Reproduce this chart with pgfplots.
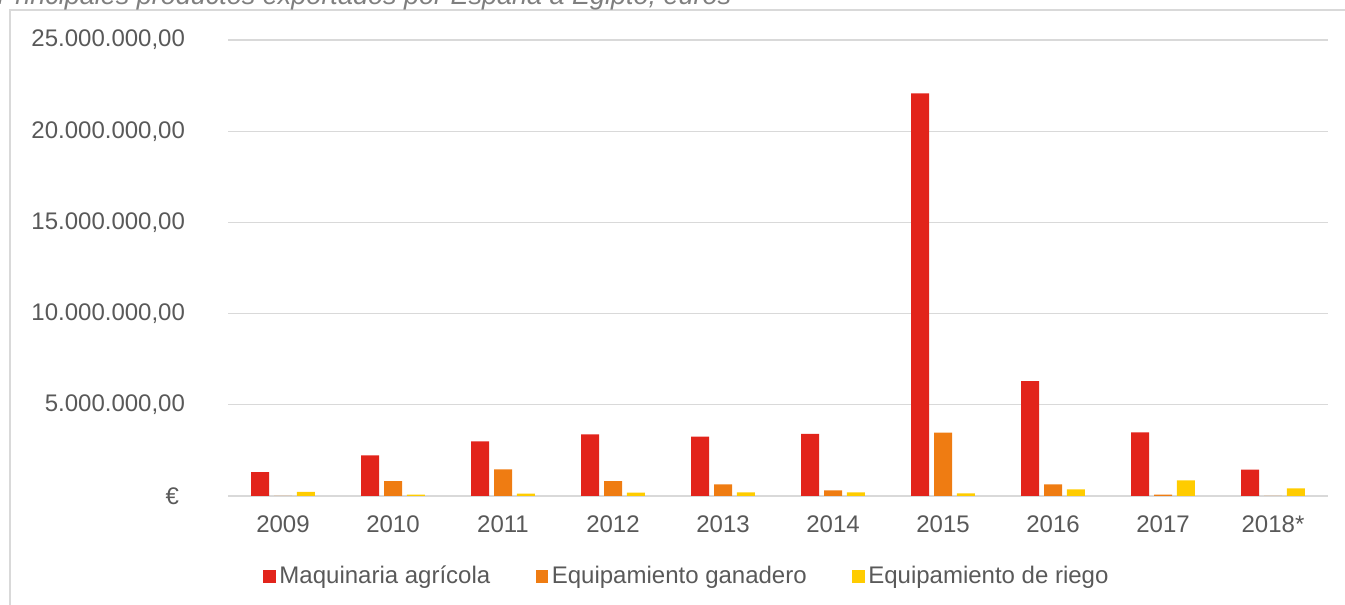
\documentclass[border=0pt]{standalone}
\usepackage{fontspec}
\setmainfont{Liberation Sans}
\usepackage{pgfplots}
\pgfplotsset{compat=1.18}
\definecolor{cRed}{HTML}{E2241B}
\definecolor{cOrange}{HTML}{EF7C12}
\definecolor{cYellow}{HTML}{FFCC00}
\definecolor{cGrid}{HTML}{D9D9D9}
\definecolor{cText}{HTML}{595959}
\definecolor{cTitle}{HTML}{7F7F7F}
\begin{document}
\begin{tikzpicture}
\useasboundingbox (0,0) rectangle (672.5pt,302.5pt);
\draw[cGrid, line width=0.6pt] (5pt,-10pt) -- (5pt,297.5pt) -- (690pt,297.5pt);
\node[anchor=base west, inner sep=0pt, text=cTitle, font=\itshape\fontsize{13.5}{15}\selectfont] at (-1.5pt,300pt) {Principales productos exportados por España a Egipto, euros};
\begin{axis}[
  at={(114pt,54.5pt)}, anchor=south west,
  scale only axis, width=550pt, height=228pt,
  ybar=2.4pt, bar width=9pt,
  xmin=-0.5, xmax=9.5, ymin=0, ymax=25000000,
  xtick={0,...,9},
  xticklabels={2009,2010,2011,2012,2013,2014,2015,2016,2017,2018*},
  ytick={0,5000000,10000000,15000000,20000000,25000000},
  yticklabels={{€\hspace*{3pt}},{5.000.000,00},{10.000.000,00},{15.000.000,00},{20.000.000,00},{25.000.000,00}},
  scaled y ticks=false,
  axis lines=left,
  axis line style={-},
  y axis line style={draw=none},
  x axis line style={draw=cGrid, line width=1pt},
  major tick length=0pt,
  tick style={draw=none},
  ymajorgrids, grid style={cGrid, line width=0.6pt},
  ticklabel style={text=cText, font=\fontsize{12}{14}\selectfont},
  yticklabel style={anchor=east, xshift=-18pt},
  xticklabel style={yshift=-6.5pt},
  legend columns=3,
  legend style={draw=none, fill=none, at={(0.418,-0.1765)}, anchor=center,
    font=\fontsize{12}{14}\selectfont, text=cText,
    /tikz/every even column/.append style={column sep=21pt},
    nodes={inner sep=1.8pt}},
  legend image code/.code={\fill[#1] (0pt,-3.1pt) rectangle (6.2pt,3.1pt);},
]
\addplot[fill=cRed, draw=none] coordinates {(0,1310000) (1,2230000) (2,3000000) (3,3380000) (4,3250000) (5,3400000) (6,22080000) (7,6300000) (8,3490000) (9,1450000)};
\addplot[fill=cOrange, draw=none] coordinates {(0,0) (1,820000) (2,1460000) (3,820000) (4,640000) (5,310000) (6,3470000) (7,640000) (8,80000) (9,0)};
\addplot[fill=cYellow, draw=none] coordinates {(0,220000) (1,80000) (2,130000) (3,180000) (4,200000) (5,200000) (6,150000) (7,370000) (8,860000) (9,420000)};
\legend{Maquinaria agrícola, Equipamiento ganadero, Equipamiento de riego}
\end{axis}
\end{tikzpicture}
\end{document}
